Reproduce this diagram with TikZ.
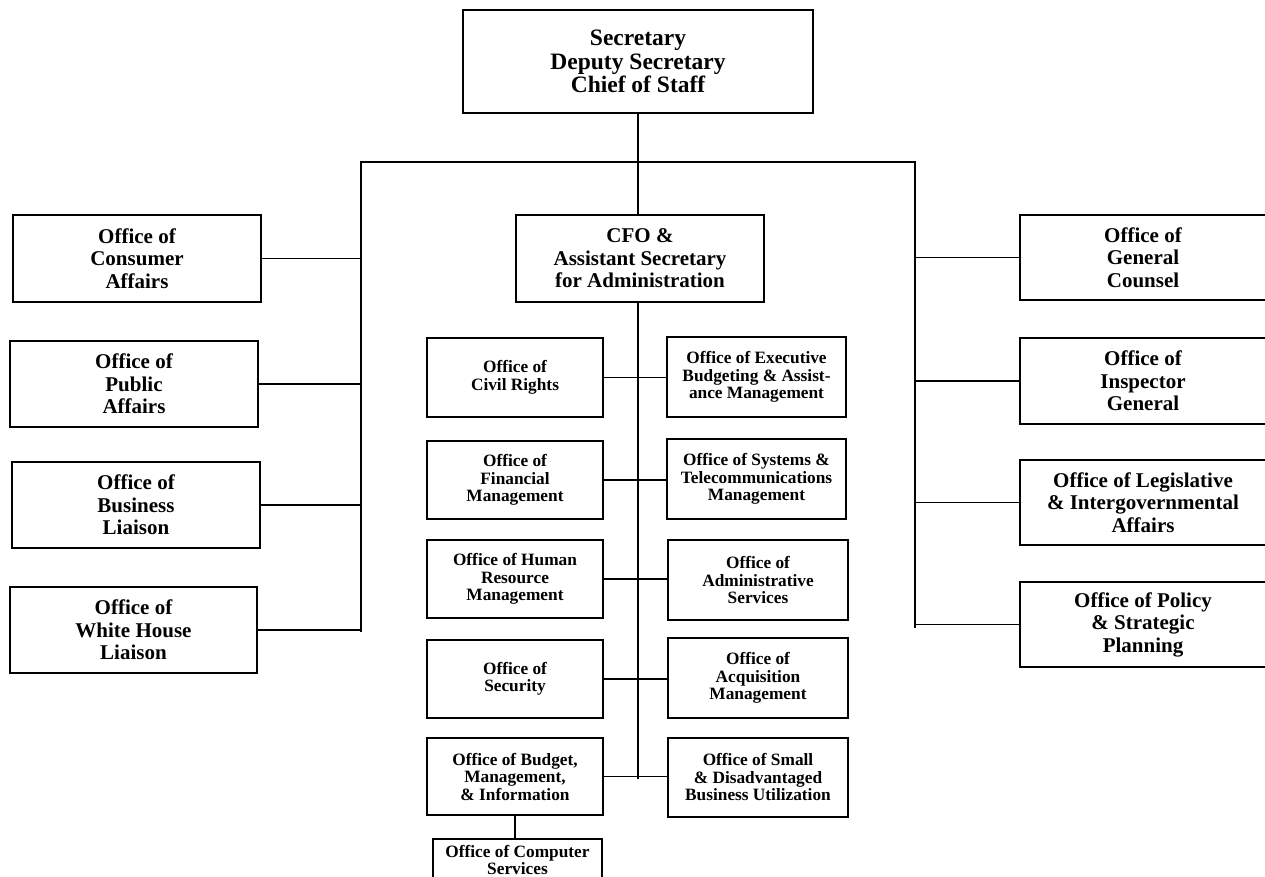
\documentclass[tikz,border=0pt]{standalone}
\usepackage{fontspec}
\setmainfont{Liberation Serif}
\begin{document}
\begin{tikzpicture}[x=1pt,y=-1pt,
  box/.style={draw, line width=1.8pt, inner sep=0pt, align=center, font=\bfseries},
  big/.style={box, font=\fontsize{23.5}{23.5}\selectfont\bfseries},
  side/.style={box, font=\fontsize{21}{22.5}\selectfont\bfseries},
  small/.style={box, font=\fontsize{17.3}{17.5}\selectfont\bfseries},
  conn/.style={line width=1.8pt}]
\useasboundingbox (0,0) rectangle (1265,877);
% top
\node[big, minimum width=350, minimum height=103] (top) at (638,61.5) {Secretary\\Deputy Secretary\\Chief of Staff};
\node[side, minimum width=248, minimum height=87] (cfo) at (640,258.5) {CFO \&\\Assistant Secretary\\for Administration};
% left column
\node[side, minimum width=248, minimum height=87] (cons) at (137,258.5) {Office of\\Consumer\\Affairs};
\node[side, minimum width=248, minimum height=86] (pub) at (134,384) {Office of\\Public\\Affairs};
\node[side, minimum width=248, minimum height=86] (bus) at (136,505) {Office of\\Business\\Liaison};
\node[side, minimum width=247, minimum height=86] (wh) at (133.5,630) {Office of\\White House\\Liaison};
% right column
\node[side, minimum width=246, minimum height=85] (gc) at (1143,257.5) {Office of\\General\\Counsel};
\node[side, minimum width=246, minimum height=86] (ig) at (1143,381) {Office of\\Inspector\\General};
\node[side, minimum width=246, minimum height=85] (leg) at (1143,502.5) {Office of Legislative\\\& Intergovernmental\\Affairs};
\node[side, minimum width=246, minimum height=85] (pol) at (1143,624.5) {Office of Policy\\\& Strategic\\Planning};
% middle left
\node[small, minimum width=176, minimum height=79] (civ) at (515,377.5) {Office of\\Civil Rights};
\node[small, minimum width=176, minimum height=78] (fin) at (515,480) {Office of\\Financial\\Management};
\node[small, minimum width=176, minimum height=78] (hrm) at (515,579) {Office of Human\\Resource\\Management};
\node[small, minimum width=176, minimum height=78] (sec) at (515,679) {Office of\\Security};
\node[small, minimum width=176, minimum height=77] (bud) at (515,776.5) {Office of Budget,\\Management,\\\& Information};
\node[small, minimum width=169, minimum height=42, anchor=north] (comp) at (517.5,838) {Office of Computer\\Services};
% middle right
\node[small, minimum width=179, minimum height=80] (exe) at (756.5,377) {Office of Executive\\Budgeting \& Assist-\\ance Management};
\node[small, minimum width=179, minimum height=80] (sys) at (756.5,479) {Office of Systems \&\\Telecommunications\\Management};
\node[small, minimum width=180, minimum height=80] (adm) at (758,580) {Office of\\Administrative\\Services};
\node[small, minimum width=180, minimum height=80] (acq) at (758,678) {Office of\\Acquisition\\Management};
\node[small, minimum width=180, minimum height=79] (sma) at (758,777.5) {Office of Small\\\& Disadvantaged\\Business Utilization};
% trunk coordinates
\coordinate (hl) at (361,162);
\coordinate (hrt) at (915,162);
\coordinate (lb) at (361,632);
\coordinate (rb) at (915,628);
\coordinate (mb) at (638,779);
% connectors
\draw[conn] (top.south) -- (top.south |- cfo.north);
\draw[conn] (lb) -- (hl) -- (hrt) -- (rb);
\draw[conn] (cfo.south -| mb) -- (mb);
\draw[conn] (cons.east) -- (cons.east -| hl);
\draw[conn] (pub.east) -- (pub.east -| hl);
\draw[conn] (bus.east) -- (bus.east -| hl);
\draw[conn] (wh.east) -- (wh.east -| hl);
\draw[conn] (gc.west) -- (gc.west -| hrt);
\draw[conn] (ig.west) -- (ig.west -| hrt);
\draw[conn] (leg.west) -- (leg.west -| hrt);
\draw[conn] (pol.west) -- (pol.west -| hrt);
\draw[conn] (civ.east) -- (civ.east -| exe.west);
\draw[conn] (fin.east) -- (fin.east -| sys.west);
\draw[conn] (hrm.east) -- (hrm.east -| adm.west);
\draw[conn] (sec.east) -- (sec.east -| acq.west);
\draw[conn] (bud.east) -- (bud.east -| sma.west);
\draw[conn] (bud.south) -- (bud.south |- comp.north);
\end{tikzpicture}
\end{document}
